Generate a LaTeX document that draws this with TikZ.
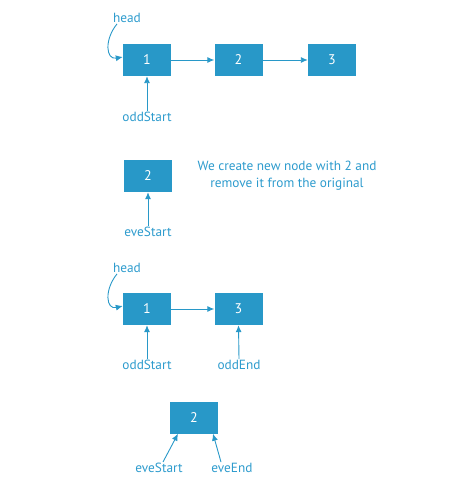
\documentclass[tikz,border=0pt]{standalone}
\usepackage{fontspec}
\setmainfont{PT Sans}
\usetikzlibrary{arrows.meta}
\definecolor{boxblue}{RGB}{40,152,200}
\definecolor{txtblue}{RGB}{45,155,205}
\tikzset{
  lbox/.style={fill=boxblue, minimum width=48pt, minimum height=32pt, inner sep=0pt, text=white, font=\fontsize{14}{16}\selectfont},
  lbl/.style={text=txtblue, inner sep=1pt, font=\fontsize{13.3}{17}\selectfont},
  conn/.style={draw=boxblue, line width=0.9pt, -{Latex[length=7pt,width=6pt]}}
}
\begin{document}
\begin{tikzpicture}[x=1pt,y=-1pt]
\useasboundingbox (0,0) rectangle (474,486);
% top row
\node[lbox] (a1) at (147,60) {1};
\node[lbox] (a2) at (238.5,60) {2};
\node[lbox] (a3) at (332,60) {3};
\node[lbl] (ahead) at (127,18) {head};
\node[lbl] (aodd) at (147,117) {oddStart};
\draw[conn] (a1) -- (a2);
\draw[conn] (a2) -- (a3);
\draw[conn] (aodd.north) -- (a1.south);
\draw[conn] ([xshift=-10pt]ahead.south) .. controls (104,40) and (106,60) .. ([yshift=3pt]a1.west);
% middle
\node[lbox] (b2) at (148,176) {2};
\node[lbl] (beve) at (148,232) {eveStart};
\draw[conn] (beve.north) -- (b2.south);
\node[lbl, align=center] (note) at (287,176) {We create new node with 2 and\\remove it from the original};
% third
\node[lbox] (c1) at (147,309) {1};
\node[lbox] (c3) at (238.5,309) {3};
\node[lbl] (chead) at (127,268) {head};
\node[lbl] (codd) at (147,365) {oddStart};
\node[lbl] (cend) at (239,365) {oddEnd};
\draw[conn] (c1) -- (c3);
\draw[conn] (codd.north) -- (c1.south);
\draw[conn] (cend.north) -- (c3.south);
\draw[conn] ([xshift=-10pt]chead.south) .. controls (104,290) and (106,310) .. ([yshift=3pt]c1.west);
% bottom
\node[lbox] (d2) at (194,417.5) {2};
\node[lbl] (deve) at (159,468) {eveStart};
\node[lbl] (dend) at (232,468) {eveEnd};
\draw[conn] ([xshift=4pt]deve.north) -- ([xshift=-16pt]d2.south);
\draw[conn] ([xshift=-11pt]dend.north) -- ([xshift=19pt]d2.south);
\end{tikzpicture}
\end{document}
